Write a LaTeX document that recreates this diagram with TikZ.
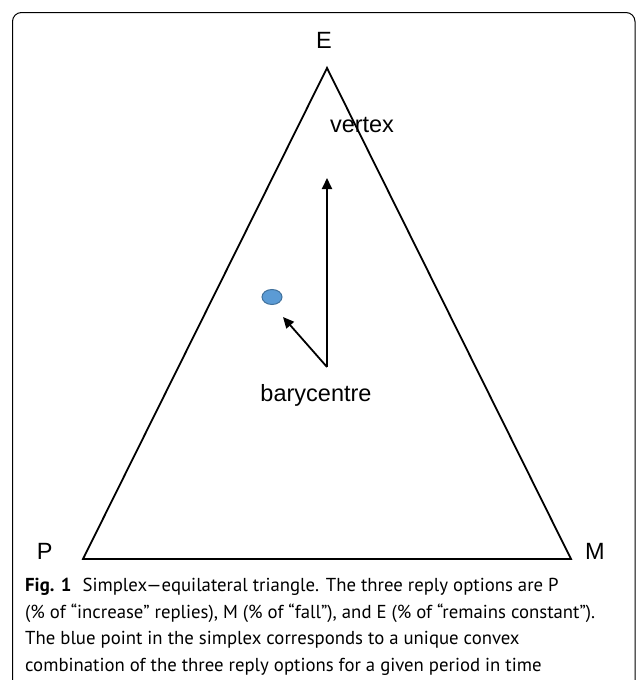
\documentclass[tikz,border=0pt]{standalone}
\usepackage{fontspec}
\setmainfont{Liberation Sans}
\newfontfamily\capfont{PT Sans}
\usetikzlibrary{arrows.meta,shapes.geometric}
\definecolor{ptblue}{HTML}{5B9BD5}
\definecolor{ptedge}{HTML}{41719C}
\begin{document}
\begin{tikzpicture}[x=1pt,y=-1pt,
  lbl/.style={font=\fontsize{23.5}{27}\selectfont, inner sep=0pt},
  triedge/.style={line width=1.8pt, line join=miter},
  arrline/.style={line width=1.8pt, -{Triangle[length=11pt,width=10pt]}},
  outerframe/.style={line width=1pt, rounded corners=9pt},
  captxt/.style={font=\capfont\fontsize{18.75}{26}\selectfont, inner sep=0pt, anchor=base west}]
\useasboundingbox (0,0) rectangle (636,680);
\draw[outerframe] (12.5,700) -- (12.5,12.5) -- (635,12.5) -- (635,700);
% triangle
\coordinate (A) at (327,68);
\coordinate (B) at (83,559);
\coordinate (C) at (571,559);
\draw[triedge] (A) -- (B) -- (C) -- cycle;
% vertex labels
\node[lbl] (E) at (324,40.5) {E};
\node[lbl] (P) at (44.7,551.5) {P};
\node[lbl] (M) at (595,551.5) {M};
\node[lbl, anchor=base] (vertex) at (362,132.5) {vertex};
\node[lbl, anchor=base] (barycentre) at (316,401) {barycentre};
% blue point
\node[ellipse, fill=ptblue, draw=ptedge, line width=1pt, minimum width=20pt, minimum height=15pt, inner sep=0pt] (pt) at (272,297) {};
% arrows
\coordinate (bary) at (327,367);
\coordinate (vtip) at (327,178);
\coordinate (ptip) at (283,317);
\draw[arrline] (bary) -- (vtip);
\draw[arrline] (bary) -- (ptip);
% caption
\node[captxt] (cap1) at (25,591.5) {\textbf{Fig. 1}\hspace{0.6em}Simplex—equilateral triangle. The three reply options are P};
\node[captxt] (cap2) at (25,618) {(\% of “increase” replies), M (\% of “fall”), and E (\% of “remains constant”).};
\node[captxt] (cap3) at (25,644.5) {The blue point in the simplex corresponds to a unique convex};
\node[captxt] (cap4) at (25,671) {combination of the three reply options for a given period in time};
\end{tikzpicture}
\end{document}
